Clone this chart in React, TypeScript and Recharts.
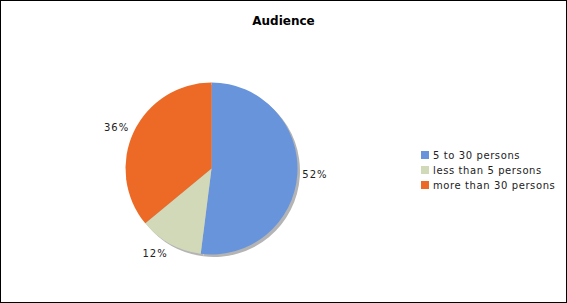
import React from "react";
import { PieChart, Pie, Cell, Legend } from "recharts";

const categories = ["5 to 30 persons", "less than 5 persons", "more than 30 persons"];
const values = [52, 12, 36];
const colors = ["#6894dc", "#d2d9b8", "#ec6a25"];
const title = "Audience";

const data = categories.map((name, i) => ({ name, value: values[i] }));
const RAD = Math.PI / 180;

const renderLabel = (props: any) => {
  const { cx, cy, midAngle, outerRadius, percent } = props;
  const r = outerRadius + 5;
  const cos = Math.cos(-midAngle * RAD);
  const sin = Math.sin(-midAngle * RAD);
  const x = cx + r * cos;
  const y = cy + r * sin + sin * 6;
  return (
    <text
      x={x}
      y={y}
      textAnchor={cos >= 0 ? "start" : "end"}
      dominantBaseline="central"
      fontFamily="DejaVu Sans"
      fontSize={10}
      letterSpacing={1}
      fill="#222"
    >
      {`${Math.round(percent * 100)}%`}
    </text>
  );
};

export default function App() {
  return (
    <div
      style={{
        position: "absolute",
        left: 0,
        top: 0,
        width: 567,
        height: 303,
        border: "1px solid #000",
        boxSizing: "border-box",
        background: "#fff",
        fontFamily: "DejaVu Sans",
      }}
    >
      <div
        style={{
          position: "absolute",
          left: 0,
          top: 13,
          width: 565,
          textAlign: "center",
          fontSize: 12,
          fontWeight: "bold",
          color: "#000",
        }}
      >
        {title}
      </div>
      <div style={{ position: "absolute", left: -1, top: -1 }}>
        <PieChart width={567} height={303} margin={{ top: 0, right: 0, bottom: 0, left: 0 }}>
          <Pie
            data={data}
            dataKey="value"
            nameKey="name"
            cx={214}
            cy={171}
            outerRadius={86}
            startAngle={90}
            endAngle={-270}
            stroke="none"
            fill="#b0b0b0"
            isAnimationActive={false}
            legendType="none"
          >
            {data.map((d, i) => (
              <Cell key={i} fill="#b4b4b4" />
            ))}
          </Pie>
          <Pie
            data={data}
            dataKey="value"
            nameKey="name"
            cx={211.5}
            cy={168.5}
            outerRadius={86}
            startAngle={90}
            endAngle={-270}
            stroke="none"
            label={renderLabel}
            labelLine={false}
            isAnimationActive={false}
          >
            {data.map((d, i) => (
              <Cell key={i} fill={colors[i]} />
            ))}
          </Pie>
          <Legend
            layout="vertical"
            align="right"
            verticalAlign="middle"
            iconType="square"
            iconSize={8}
            formatter={(v: any) => (
              <span style={{ color: "#222", fontSize: 10, letterSpacing: "0.6px" }}>{v}</span>
            )}
            wrapperStyle={{ left: 421, top: 147, width: 146, lineHeight: "13px", fontFamily: "DejaVu Sans" }}
          />
        </PieChart>
      </div>
    </div>
  );
}
